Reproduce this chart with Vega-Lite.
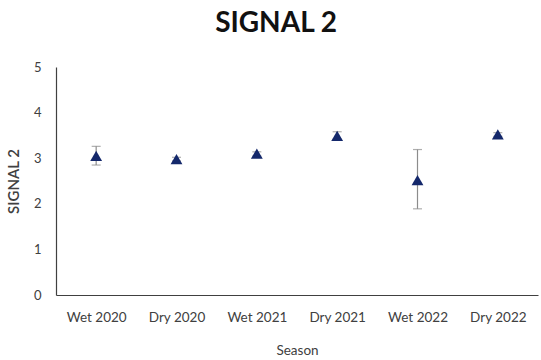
{
  "$schema": "https://vega.github.io/schema/vega-lite/v6.json",
  "width": 482,
  "height": 228,
  "autosize": {"type": "none"},
  "padding": {"left": 56, "top": 67, "right": 3, "bottom": 65},
  "background": "white",
  "config": {"view": {"stroke": null}, "font": "Lato"},
  "title": {
    "text": "SIGNAL 2",
    "font": "Lato",
    "fontSize": 28,
    "fontWeight": "bold",
    "color": "#111111",
    "anchor": "middle",
    "dx": -21,
    "offset": 23
  },
  "data": {
    "values": [
      {"Season": "Wet 2020", "value": 3.05, "lo": 2.85, "hi": 3.26},
      {"Season": "Dry 2020", "value": 2.98, "lo": 2.94, "hi": 3.02},
      {"Season": "Wet 2021", "value": 3.1, "lo": 3.05, "hi": 3.14},
      {"Season": "Dry 2021", "value": 3.49, "lo": 3.42, "hi": 3.58},
      {"Season": "Wet 2022", "value": 2.52, "lo": 1.89, "hi": 3.19},
      {"Season": "Dry 2022", "value": 3.52, "lo": 3.48, "hi": 3.56}
    ]
  },
  "encoding": {
    "x": {
      "field": "Season",
      "type": "nominal",
      "sort": null,
      "scale": {"type": "point", "padding": 0.5},
      "axis": {
        "title": "Season",
        "labelAngle": 0,
        "labelFontSize": 13.5,
        "labelColor": "#404040",
        "labelPadding": 15,
        "ticks": false,
        "domainColor": "#404040",
        "domainWidth": 1.2,
        "titleFontSize": 13.5,
        "titleFontWeight": "normal",
        "titleColor": "#404040",
        "titlePadding": 20
      }
    }
  },
  "layer": [
    {
      "mark": {"type": "rule", "color": "#8c8c8c", "strokeWidth": 1.2},
      "encoding": {
        "y": {"field": "lo", "type": "quantitative"},
        "y2": {"field": "hi"}
      }
    },
    {
      "mark": {"type": "tick", "orient": "horizontal", "color": "#8c8c8c", "size": 9, "thickness": 1.2},
      "encoding": {"y": {"field": "hi", "type": "quantitative"}}
    },
    {
      "mark": {"type": "tick", "orient": "horizontal", "color": "#8c8c8c", "size": 9, "thickness": 1.2},
      "encoding": {"y": {"field": "lo", "type": "quantitative"}}
    },
    {
      "mark": {"type": "point", "shape": "triangle-up", "filled": true, "size": 140, "color": "#14286b", "opacity": 1},
      "encoding": {
        "y": {
          "field": "value",
          "type": "quantitative",
          "scale": {"domain": [0, 5], "nice": false},
          "axis": {
            "title": "SIGNAL 2",
            "values": [0, 1, 2, 3, 4, 5],
            "grid": false,
            "ticks": false,
            "labelFontSize": 13,
            "labelColor": "#404040",
            "labelPadding": 15,
            "domainColor": "#404040",
            "domainWidth": 1.2,
            "titleFontSize": 15,
            "titleFontWeight": 600,
            "titleColor": "#404040",
            "titlePadding": 12
          }
        }
      }
    }
  ]
}
